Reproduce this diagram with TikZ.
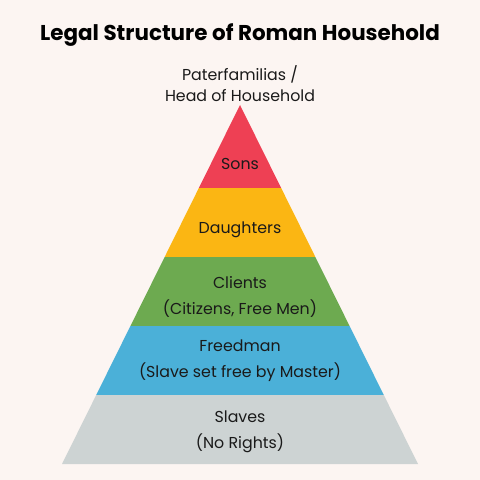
\documentclass[tikz,border=0pt]{standalone}
\usepackage{fontspec}
\setmainfont{Poppins}
\usetikzlibrary{calc}
\definecolor{paper}{HTML}{FCF5F2}
\definecolor{sonsred}{HTML}{EE4054}
\definecolor{daughteryel}{HTML}{FBB613}
\definecolor{clientgrn}{HTML}{6DAA50}
\definecolor{freedblue}{HTML}{4BB0D8}
\definecolor{slavegray}{HTML}{CDD3D3}
\definecolor{ink}{HTML}{1A1A1A}

\begin{document}
\begin{tikzpicture}[x=0.03cm,y=-0.03cm,
  lbl/.style={font=\fontsize{13.5}{22}\selectfont,text=ink,align=center,inner sep=0pt},
  hdr/.style={lbl,font=\fontsize{13.5}{18}\selectfont},
  ttl/.style={font=\fontsize{18.3}{20}\selectfont\bfseries,text=black,inner sep=0pt}]

\fill[paper] (0,0) rectangle (480,480);

\coordinate (apex) at (240,105);
\coordinate (bl) at (62,464);
\coordinate (br) at (418,464);

% bands, top to bottom
\fill[sonsred] (apex) -- ($(apex)!0.2312!(bl)$) -- ($(apex)!0.2312!(br)$) -- cycle;
\fill[daughteryel] ($(apex)!0.2312!(bl)$) -- ($(apex)!0.4234!(bl)$)
  -- ($(apex)!0.4234!(br)$) -- ($(apex)!0.2312!(br)$) -- cycle;
\fill[clientgrn] ($(apex)!0.4234!(bl)$) -- ($(apex)!0.6156!(bl)$)
  -- ($(apex)!0.6156!(br)$) -- ($(apex)!0.4234!(br)$) -- cycle;
\fill[freedblue] ($(apex)!0.6156!(bl)$) -- ($(apex)!0.8078!(bl)$)
  -- ($(apex)!0.8078!(br)$) -- ($(apex)!0.6156!(br)$) -- cycle;
\fill[slavegray] ($(apex)!0.8078!(bl)$) -- (bl) -- (br)
  -- ($(apex)!0.8078!(br)$) -- cycle;

\node[ttl] (title) at (240,35) {Legal Structure of Roman Household};
\node[hdr] (head) at (240,84) {Paterfamilias /\\ Head of Household};

\node[lbl] (sons) at (240,164) {Sons};
\node[lbl] (daughters) at (240,230) {Daughters};
\node[lbl] (clients) at (240,297) {Clients\\(Citizens, Free Men)};
\node[lbl] (freedman) at (240,361) {Freedman\\(Slave set free by Master)};
\node[lbl] (slaves) at (240,432) {Slaves\\(No Rights)};
\end{tikzpicture}
\end{document}
